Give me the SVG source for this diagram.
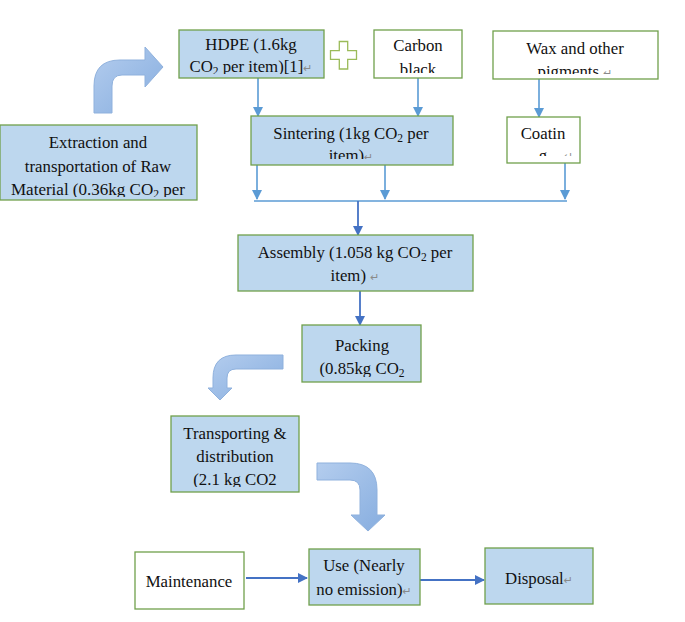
<svg xmlns="http://www.w3.org/2000/svg" width="685" height="622" viewBox="0 0 685 622">
<style>
.b{fill:#BDD7EE;stroke:#70A04C;stroke-width:1.3}
.w{fill:#FFFFFF;stroke:#70A04C;stroke-width:1.3}
.t{font-family:"Liberation Serif","Times New Roman",serif;font-size:16.8px;fill:#111;text-anchor:middle}
.r{font-family:"DejaVu Sans",sans-serif;font-size:11px;fill:#8a8a8a}
.s{font-size:11.5px}
.c1{stroke:#5B9BD5;stroke-width:1.6;fill:none}
.c2{stroke:#4472C4;stroke-width:1.8;fill:none}
.ba{fill:url(#g);stroke:#8FB1DD;stroke-width:1}
</style>
<defs>
<linearGradient id="g" x1="0" y1="0" x2="1" y2="1">
<stop offset="0" stop-color="#B4CDEE"/>
<stop offset="1" stop-color="#86ADDF"/>
</linearGradient>
<marker id="m1" markerUnits="userSpaceOnUse" markerWidth="10" markerHeight="10" refX="9" refY="5" orient="auto">
<path d="M0,0 L10,5 L0,10 Z" fill="#5B9BD5"/>
</marker>
<marker id="m2" markerUnits="userSpaceOnUse" markerWidth="10" markerHeight="10" refX="9" refY="5" orient="auto">
<path d="M0,0 L10,5 L0,10 Z" fill="#4472C4"/>
</marker>
<clipPath id="cHDPE"><rect x="179" y="30" width="145" height="44"/></clipPath>
<clipPath id="cCarbon"><rect x="374" y="30" width="88" height="43"/></clipPath>
<clipPath id="cWax"><rect x="493" y="31" width="165" height="43"/></clipPath>
<clipPath id="cSint"><rect x="251" y="116" width="202" height="43"/></clipPath>
<clipPath id="cCoat"><rect x="507" y="117" width="73" height="39"/></clipPath>
<clipPath id="cExt"><rect x="0" y="125" width="197" height="72"/></clipPath>
<clipPath id="cPack"><rect x="302" y="325" width="119" height="52"/></clipPath>
<clipPath id="cTrans"><rect x="171" y="416" width="128" height="71"/></clipPath>
</defs>

<g id="connectors">
<line class="c1" x1="258" y1="78" x2="258" y2="116" marker-end="url(#m1)"/>
<line class="c1" x1="418" y1="78" x2="418" y2="116" marker-end="url(#m1)"/>
<line class="c1" x1="539" y1="79" x2="539" y2="117" marker-end="url(#m1)"/>
<line class="c1" x1="257" y1="165" x2="257" y2="199" marker-end="url(#m1)"/>
<line class="c1" x1="385" y1="165" x2="385" y2="199" marker-end="url(#m1)"/>
<line class="c1" x1="565" y1="163" x2="565" y2="199" marker-end="url(#m1)"/>
<line class="c1" x1="254" y1="201" x2="567" y2="201"/>
<line class="c2" x1="358" y1="201" x2="358" y2="235" marker-end="url(#m2)"/>
<line class="c2" x1="360" y1="291" x2="360" y2="325" marker-end="url(#m2)"/>
<line class="c2" x1="246" y1="578" x2="307" y2="578" marker-end="url(#m2)"/>
<line class="c2" x1="420" y1="580" x2="484" y2="580" marker-end="url(#m2)"/>
<path class="ba" d="M94,113 L94,86 Q94,60 120,60 L145,60 L145,47 L163,67 L145,87 L145,75 L122,75 Q112,75 112,86 L112,113 Z"/>
<path class="ba" d="M283,355 L283,369 L236,369 Q227,369 227,378 L227,388 L232,388 L220,400 L208,388 L213,388 L213,378 Q213,355 236,355 Z"/>
<path class="ba" d="M317,463 L350,463 Q377,463 377,490 L377,515 L385,515 L368,531 L351,515 L360,515 L360,490 Q360,480 350,480 L317,480 Z"/>
</g>

<g id="plus">
<path d="M339.3,41.5 L347.7,41.5 L347.7,50.7 L356.5,50.7 L356.5,59.3 L347.7,59.3 L347.7,69 L339.3,69 L339.3,59.3 L330.5,59.3 L330.5,50.7 L339.3,50.7 Z" fill="#fff" stroke="#9BBB59" stroke-width="1.3"/>
</g>

<g id="hdpe">
<rect class="b" x="179" y="30" width="145" height="48"/>
<g clip-path="url(#cHDPE)">
<text class="t" x="251" y="50">HDPE (1.6kg</text>
<text class="t" x="251" y="72">CO<tspan class="s" dy="3">2</tspan><tspan dy="-3"> per item)[1]</tspan><tspan class="r">↵</tspan></text>
</g>
</g>

<g id="carbon">
<rect class="w" x="374" y="30" width="88" height="48"/>
<g clip-path="url(#cCarbon)">
<text class="t" x="418" y="51">Carbon</text>
<text class="t" x="418" y="75">black</text>
</g>
</g>

<g id="wax">
<rect class="w" x="493" y="31" width="165" height="48"/>
<g clip-path="url(#cWax)">
<text class="t" x="575" y="54">Wax and other</text>
<text class="t" x="575" y="77">pigments <tspan class="r">↵</tspan></text>
</g>
</g>

<g id="extraction">
<rect class="b" x="0" y="125" width="197" height="75"/>
<g clip-path="url(#cExt)">
<text class="t" x="98" y="148">Extraction and</text>
<text class="t" x="98" y="172">transportation of Raw</text>
<text class="t" x="98" y="195" textLength="174" lengthAdjust="spacingAndGlyphs">Material (0.36kg CO<tspan class="s" dy="3">2</tspan><tspan dy="-3"> per</tspan></text>
</g>
</g>

<g id="sintering">
<rect class="b" x="251" y="116" width="202" height="49"/>
<g clip-path="url(#cSint)">
<text class="t" x="351" y="139">Sintering (1kg CO<tspan class="s" dy="3">2</tspan><tspan dy="-3"> per</tspan></text>
<text class="t" x="351" y="161">item)<tspan class="r">↵</tspan></text>
</g>
</g>

<g id="coating">
<rect class="w" x="507" y="117" width="73" height="46"/>
<g clip-path="url(#cCoat)">
<text class="t" x="543" y="139">Coatin</text>
<text class="t" x="543" y="161">g</text>
<text class="r" x="564" y="160">↵</text>
</g>
</g>

<g id="assembly">
<rect class="b" x="238" y="235" width="235" height="56"/>
<text class="t" x="355" y="258">Assembly (1.058 kg CO<tspan class="s" dy="3">2</tspan><tspan dy="-3"> per</tspan></text>
<text class="t" x="355" y="281">item) <tspan class="r">↵</tspan></text>
</g>

<g id="packing">
<rect class="b" x="302" y="325" width="119" height="57"/>
<g clip-path="url(#cPack)">
<text class="t" x="362" y="351">Packing</text>
<text class="t" x="362" y="374">(0.85kg CO<tspan class="s" dy="3">2</tspan></text>
</g>
</g>

<g id="transporting">
<rect class="b" x="171" y="416" width="128" height="76"/>
<g clip-path="url(#cTrans)">
<text class="t" x="235" y="439">Transporting &amp;</text>
<text class="t" x="235" y="462">distribution</text>
<text class="t" x="235" y="485">(2.1 kg CO2</text>
</g>
</g>

<g id="maintenance">
<rect class="w" x="135" y="552" width="109" height="57"/>
<text class="t" x="189" y="587">Maintenance</text>
</g>

<g id="use">
<rect class="b" x="309" y="549" width="111" height="56"/>
<text class="t" x="364" y="571">Use (Nearly</text>
<text class="t" x="364" y="595">no emission)<tspan class="r">↵</tspan></text>
</g>

<g id="disposal">
<rect class="b" x="485" y="548" width="108" height="56"/>
<text class="t" x="539" y="584">Disposal<tspan class="r">↵</tspan></text>
</g>
</svg>
